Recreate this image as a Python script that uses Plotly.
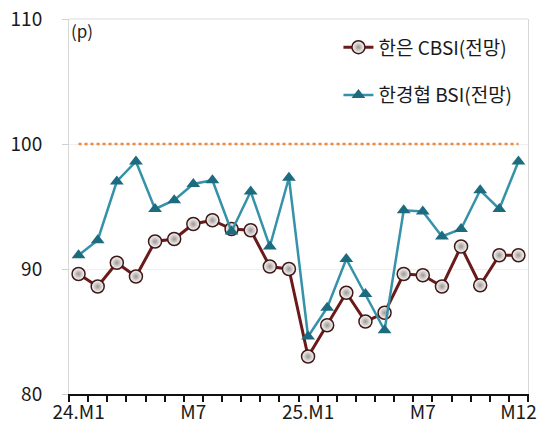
"""
BSI comparison chart: BOK CBSI outlook vs FKI BSI outlook, 24.M1 - 25.M12.
"""

import plotly.graph_objects as go

# ------------------------------------------------------------
# Data
# ------------------------------------------------------------
MONTHS = [f"24.M{m}" for m in range(1, 13)] + [f"25.M{m}" for m in range(1, 13)]
TICK_TEXT = {"24.M1": "24.M1", "24.M7": "M7", "25.M1": "25.M1", "25.M7": "M7", "25.M12": "M12"}

CBSI = [89.6, 88.6, 90.5, 89.4, 92.2, 92.4, 93.6, 93.9, 93.2, 93.1, 90.2, 90.0,
        83.0, 85.5, 88.1, 85.8, 86.5, 89.6, 89.5, 88.6, 91.8, 88.7, 91.1, 91.1]
FKI_BSI = [91.1, 92.3, 97.0, 98.6, 94.8, 95.5, 96.8, 97.1, 93.0, 96.2, 91.8, 97.3,
           84.6, 86.9, 90.8, 88.0, 85.1, 94.7, 94.6, 92.6, 93.2, 96.3, 94.8, 98.6]
REF_LEVEL = 100

FONT = "Noto Sans CJK KR"

# ------------------------------------------------------------
# Figure
# ------------------------------------------------------------
fig = go.Figure()

fig.add_trace(go.Scatter(
    x=MONTHS, y=[REF_LEVEL] * len(MONTHS),
    mode="lines", line=dict(color="#F0883A", width=2.5, dash="dot"),
    showlegend=False, hoverinfo="skip",
))

fig.add_trace(go.Scatter(
    x=MONTHS, y=CBSI, name="한은 CBSI(전망)",
    mode="lines+markers", legendgroup="a",
    line=dict(color="#6B1A1A", width=3),
    marker=dict(symbol="circle", size=13, color="#ffffff",
                gradient=dict(type="radial", color="#9e9692"),
                line=dict(color="#3f1818", width=1.5)),
))

fig.add_trace(go.Scatter(
    x=MONTHS, y=FKI_BSI, name="한경협 BSI(전망)",
    mode="lines+markers", legendgroup="b",
    line=dict(color="#3592A8", width=2.5),
    marker=dict(symbol="triangle-up", size=12, color="#1C6B7E"),
))

fig.update_layout(
    width=544, height=428,
    margin=dict(l=69, r=16, t=19, b=34),
    paper_bgcolor="white", plot_bgcolor="white",
    font=dict(family=FONT, color="#1a1a1a", size=19),
    showlegend=True,
    legend=dict(x=0.977, y=0.975, xanchor="right", yanchor="top",
                bgcolor="rgba(0,0,0,0)", font=dict(size=19),
                tracegroupgap=20, itemwidth=30, traceorder="grouped"),
    annotations=[dict(text="(p)", xref="paper", yref="paper", x=0.0, y=1.0,
                      xanchor="left", yanchor="top", showarrow=False,
                      xshift=0, yshift=3, font=dict(size=17))],
    shapes=[dict(type="line", xref="paper", yref="paper", x0=0, x1=1, y0=1, y1=1,
                 line=dict(color="#dcdcdc", width=1))],
)

fig.update_xaxes(
    type="category", categoryorder="array", categoryarray=MONTHS,
    tickmode="array", tickvals=MONTHS,
    ticktext=[TICK_TEXT.get(m, "") for m in MONTHS],
    tickson="boundaries", ticks="outside", ticklen=6, tickwidth=1.5, tickcolor="#111",
    showline=True, linecolor="#111", linewidth=1.5, tickangle=0, automargin=False,
    showgrid=False, tickfont=dict(size=19), range=[-0.5, 23.5],
)

fig.update_yaxes(
    range=[80, 110], tickvals=[80, 90, 100, 110],
    ticks="outside", ticklen=6, tickcolor="#d0d0d0",
    showline=True, linecolor="#d6d6d6", linewidth=1, mirror=True,
    showgrid=True, gridcolor="#efefef", zeroline=False, automargin=False,
    tickfont=dict(size=19), ticklabelstandoff=16,
)

# drop the default 8px page margin so the figure sits at the window corner
fig.write_html(
    "out.html",
    config={"displayModeBar": False},
    post_script="document.body.style.margin='0';",
)
